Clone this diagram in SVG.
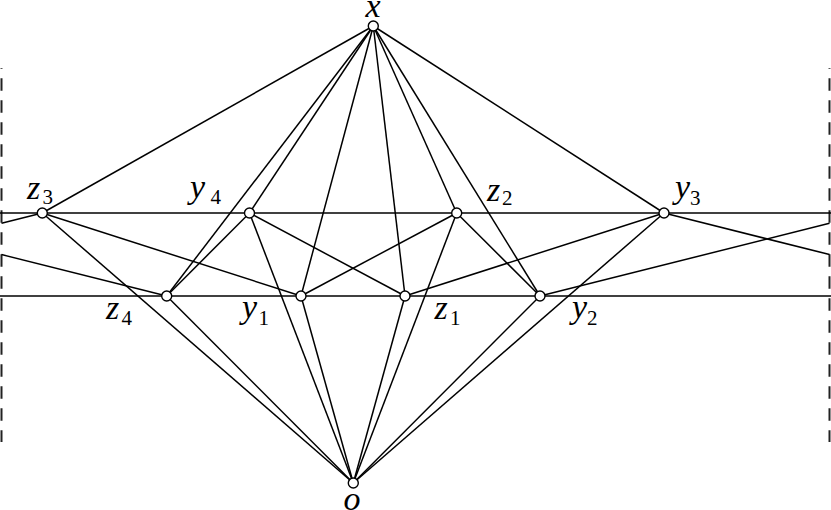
<svg xmlns="http://www.w3.org/2000/svg" width="831" height="510" viewBox="0 0 831 510">
<style>
.e{stroke:#000;stroke-width:1.5;fill:none}
.b{stroke:#222;stroke-width:2;fill:none;stroke-dasharray:12.4 9.6;stroke-dashoffset:11.7}
.n{fill:#fff;stroke:#000;stroke-width:1.4}
.l{font-family:"Liberation Serif",serif;font-style:italic;font-size:34px;fill:#000}
.s{font-family:"Liberation Serif",serif;font-style:normal;font-size:21px;fill:#000}
</style>
<rect width="831" height="510" fill="#fff"/>
<g id="boundaries">
<line class="b" x1="1.5" y1="68" x2="1.5" y2="442"/>
<line class="b" x1="829.5" y1="68" x2="829.5" y2="442"/>
</g>
<g id="connectors">
<line class="e" x1="0" y1="213" x2="831" y2="213"/>
<line class="e" x1="0" y1="296" x2="831" y2="296"/>
<line class="e" x1="373.3" y1="26" x2="42.3" y2="213"/>
<line class="e" x1="373.3" y1="26" x2="166.7" y2="296"/>
<line class="e" x1="373.3" y1="26" x2="249.5" y2="213"/>
<line class="e" x1="373.3" y1="26" x2="301" y2="296"/>
<line class="e" x1="373.3" y1="26" x2="405" y2="296"/>
<line class="e" x1="373.3" y1="26" x2="456.7" y2="213"/>
<line class="e" x1="373.3" y1="26" x2="540" y2="296"/>
<line class="e" x1="373.3" y1="26" x2="664" y2="213"/>
<line class="e" x1="353.3" y1="483" x2="42.3" y2="213"/>
<line class="e" x1="353.3" y1="483" x2="166.7" y2="296"/>
<line class="e" x1="353.3" y1="483" x2="249.5" y2="213"/>
<line class="e" x1="353.3" y1="483" x2="301" y2="296"/>
<line class="e" x1="353.3" y1="483" x2="405" y2="296"/>
<line class="e" x1="353.3" y1="483" x2="456.7" y2="213"/>
<line class="e" x1="353.3" y1="483" x2="540" y2="296"/>
<line class="e" x1="353.3" y1="483" x2="664" y2="213"/>
<line class="e" x1="42.3" y1="213" x2="301" y2="296"/>
<line class="e" x1="166.7" y1="296" x2="249.5" y2="213"/>
<line class="e" x1="249.5" y1="213" x2="405" y2="296"/>
<line class="e" x1="301" y1="296" x2="456.7" y2="213"/>
<line class="e" x1="405" y1="296" x2="664" y2="213"/>
<line class="e" x1="456.7" y1="213" x2="540" y2="296"/>
<line class="e" x1="664" y1="213" x2="829.5" y2="254.6"/>
<line class="e" x1="1.5" y1="254.6" x2="166.7" y2="296"/>
<line class="e" x1="540" y1="296" x2="829.5" y2="223.3"/>
<line class="e" x1="1.5" y1="223.3" x2="42.3" y2="213"/>
</g>
<g id="node-x"><circle class="n" cx="373.3" cy="26" r="5"/><text class="l" x="373" y="16.5" text-anchor="middle">x</text></g>
<g id="node-o"><circle class="n" cx="353.3" cy="483" r="5"/><text class="l" x="352" y="509.5" text-anchor="middle">o</text></g>
<g id="node-z3"><circle class="n" cx="42.3" cy="213" r="5"/><text class="l" x="27" y="198.5">z</text><text class="s" x="42.5" y="203.5">3</text></g>
<g id="node-y4"><circle class="n" cx="249.5" cy="213" r="5"/><text class="l" x="190" y="197.5">y</text><text class="s" x="210.5" y="204">4</text></g>
<g id="node-z2"><circle class="n" cx="456.7" cy="213" r="5"/><text class="l" x="487" y="200.5">z</text><text class="s" x="502" y="205">2</text></g>
<g id="node-y3"><circle class="n" cx="664" cy="213" r="5"/><text class="l" x="675" y="197.5">y</text><text class="s" x="690" y="204.5">3</text></g>
<g id="node-z4"><circle class="n" cx="166.7" cy="296" r="5"/><text class="l" x="106" y="318.5">z</text><text class="s" x="121.5" y="325">4</text></g>
<g id="node-y1"><circle class="n" cx="301" cy="296" r="5"/><text class="l" x="242" y="317.5">y</text><text class="s" x="258.5" y="324.5">1</text></g>
<g id="node-z1"><circle class="n" cx="405" cy="296" r="5"/><text class="l" x="434.5" y="318.5">z</text><text class="s" x="450" y="325">1</text></g>
<g id="node-y2"><circle class="n" cx="540" cy="296" r="5"/><text class="l" x="572" y="317.5">y</text><text class="s" x="587" y="325">2</text></g>
</svg>
